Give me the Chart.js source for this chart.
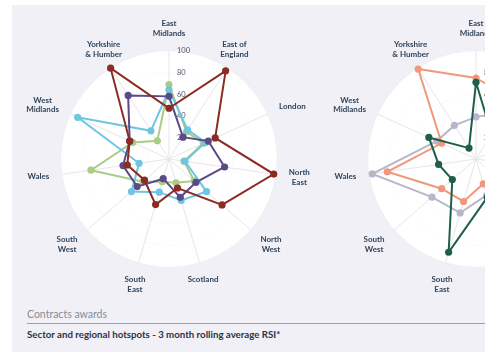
<!DOCTYPE html>
<html>
<head>
<meta charset="utf-8">
<script src="https://cdn.jsdelivr.net/npm/chart.js@4.4.1/dist/chart.umd.min.js"></script>
<style>
  html, body { margin: 0; padding: 0; background: #ffffff; }
  body { width: 485px; height: 360px; overflow: hidden; position: relative; font-family: Lato, "Noto Sans", sans-serif; }
  .panel { position: absolute; left: 12px; top: 5px; width: 520px; height: 347px; background: #f0f0f6; }
  .chart-box { position: absolute; top: 0; width: 340px; height: 300px; }
  #leftBox { left: 0; }
  #rightBox { left: 310px; }
  .caption { position: absolute; left: 27px; top: 308px; font-size: 10.5px; color: #878d99; }
  .rule { position: absolute; left: 27px; top: 323px; width: 480px; height: 1px; background: #9aa0ad; }
  .title { position: absolute; left: 27px; top: 328px; font-size: 9.7px; font-weight: bold; color: #2b3444; }
</style>
</head>
<body>
<div class="panel"></div>
<div class="chart-box" id="leftBox"><canvas id="leftChart"></canvas></div>
<div class="chart-box" id="rightBox"><canvas id="rightChart"></canvas></div>
<div class="caption">Contracts awards</div>
<div class="rule"></div>
<div class="title">Sector and regional hotspots - 3 month rolling average RSI*</div>

<script>
// Regions, clockwise from the top
const regions = ['East Midlands', 'East of England', 'London', 'North East', 'North West', 'Scotland',
  'South East', 'South West', 'Wales', 'West Midlands', 'Yorkshire & Humber'];
const regionLines = [['East', 'Midlands'], ['East of', 'England'], ['London'], ['North', 'East'], ['North', 'West'],
  ['Scotland'], ['South', 'East'], ['South', 'West'], ['Wales'], ['West', 'Midlands'], ['Yorkshire', '& Humber']];
const tickValues = [20, 40, 60, 80, 100];

// Left chart series
const seriesRed = [47, 97, 47, 98, 65, 28, 44, 30, 39, 40, 100];
const seriesPurple = [58, 24, 40, 52, 33, 37, 19, 39, 43, 40, 70];
const seriesCyan = [64, 32, 37, 15, 46, 40, 32, 46, 28, 93, 31];
const seriesGreen = [69, 30, 35, 14, 31, 23, 22, 32, 73, 37, 20];

// Right chart series
const seriesDarkGreen = [71, 27, 30, 35, 40, 37, 90, 29, 35, 48, 12];
const seriesSalmon = [75, 65, 45, 40, 35, 24, 41, 42, 83, 35, 99];
const seriesLavender = [39, 52, 40, 45, 40, 35, 52, 54, 97, 40, 37];

function makeSet(label, data, color) {
  return {
    label: label,
    data: data,
    borderColor: color,
    backgroundColor: color,
    pointBackgroundColor: color,
    pointBorderColor: color,
    borderWidth: 2,
    pointRadius: 3.6,
    pointBorderWidth: 0,
    fill: false,
    tension: 0
  };
}

// tick numbers and region names drawn next to the scale
const radarText = {
  id: 'radarText',
  beforeDatasetsDraw(chart) {
    const scale = chart.scales.r;
    const ctx = chart.ctx;
    ctx.save();
    ctx.font = '7.5px Lato';
    ctx.fillStyle = '#4d5666';
    ctx.textAlign = 'left';
    ctx.textBaseline = 'middle';
    tickValues.forEach(v => {
      const d = scale.getDistanceFromCenterForValue(v);
      ctx.fillText(String(v), scale.xCenter + 8, scale.yCenter - d);
    });

    ctx.font = 'bold 8px Lato';
    ctx.fillStyle = '#32455b';
    ctx.textAlign = 'center';
    const lineH = 9.5;
    const n = regionLines.length;
    regionLines.forEach((lines, i) => {
      const a = i * 2 * Math.PI / n;
      const s = Math.sin(a), c = Math.cos(a);
      const p = scale.getPointPosition(i, scale.drawingArea + 13);
      const w = Math.max(...lines.map(t => ctx.measureText(t).width));
      const h = lines.length * lineH;
      const cx = p.x + (Math.abs(s) > 0.65 ? Math.sign(s) * w / 2 : 0);
      const cy = p.y - c * h / 2;
      lines.forEach((t, k) => {
        ctx.fillText(t, cx, cy - h / 2 + lineH * (k + 0.5));
      });
    });
    ctx.restore();
  }
};

function radarOptions(padLeft, padRight) {
  return {
    responsive: true,
    maintainAspectRatio: false,
    animation: false,
    layout: { padding: { left: padLeft, right: padRight, top: 51, bottom: 33 } },
    plugins: { legend: { display: false }, tooltip: { enabled: false } },
    scales: {
      r: {
        min: 0,
        max: 100,
        backgroundColor: '#ffffff',
        ticks: { display: false, stepSize: 20 },
        pointLabels: { display: false },
        angleLines: { color: '#e6e6ec', lineWidth: 1 },
        grid: { circular: true, color: 'rgba(0,0,0,0.018)' }
      }
    }
  };
}

new Chart(document.getElementById('leftChart'), {
  type: 'radar',
  data: {
    labels: regions,
    datasets: [
      makeSet('Series 1', seriesRed, '#8b2b22'),
      makeSet('Series 2', seriesPurple, '#5c4a86'),
      makeSet('Series 3', seriesCyan, '#6ec6e0'),
      makeSet('Series 4', seriesGreen, '#a9cc86')
    ]
  },
  options: radarOptions(61, 63),
  plugins: [radarText]
});

new Chart(document.getElementById('rightChart'), {
  type: 'radar',
  data: {
    labels: regions,
    datasets: [
      makeSet('Series 5', seriesDarkGreen, '#1e5e4b'),
      makeSet('Series 6', seriesSalmon, '#f0987c'),
      makeSet('Series 7', seriesLavender, '#b9b6cc')
    ]
  },
  options: radarOptions(58, 66),
  plugins: [radarText]
});
</script>
</body>
</html>
